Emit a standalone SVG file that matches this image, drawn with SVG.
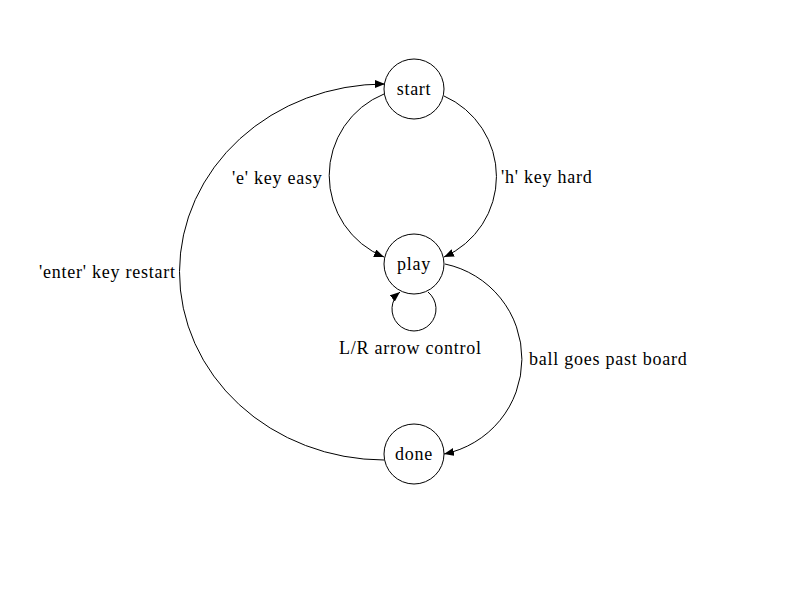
<svg xmlns="http://www.w3.org/2000/svg" width="800" height="600" viewBox="0 0 800 600">
<style>
  .node circle { fill: #ffffff; stroke: #000000; stroke-width: 1; }
  text { font-family: "Liberation Serif", "Times New Roman", serif; font-size: 18px; letter-spacing: 0.75px; fill: #000000; }
  .node text { text-anchor: middle; }
  .edge { fill: none; stroke: #000000; stroke-width: 1; marker-end: url(#arrow); }
</style>
<defs>
  <marker id="arrow" markerUnits="userSpaceOnUse" markerWidth="10" markerHeight="8" refX="10" refY="4" orient="auto">
    <path d="M0,0 L10,4 L0,8 z" fill="#000000"/>
  </marker>
</defs>
<rect width="800" height="600" fill="#ffffff"/>
<g id="connectors">
  <path class="edge" d="M384,94 A 88 88 0 0 0 384,257"/>
  <path class="edge" d="M444,96 A 88 88 0 0 1 444,257"/>
  <path class="edge" d="M445,264 A 97 97 0 0 1 444,454"/>
  <path class="edge" d="M384,460 A 205 188 0 0 1 385,84"/>
  <path class="edge" d="M428,292 A 22 22 0 1 1 400,292"/>
  <text x="232" y="184">'e' key easy</text>
  <text x="501" y="183">'h' key hard</text>
  <text x="39" y="278">'enter' key restart</text>
  <text x="339" y="354">L/R arrow control</text>
  <text x="529" y="365">ball goes past board</text>
</g>
<g id="node-start" class="node">
  <circle cx="414" cy="89" r="30"/>
  <text x="414" y="95">start</text>
</g>
<g id="node-play" class="node">
  <circle cx="414" cy="264" r="30"/>
  <text x="414" y="270">play</text>
</g>
<g id="node-done" class="node">
  <circle cx="414" cy="454" r="30"/>
  <text x="414" y="460">done</text>
</g>
</svg>
